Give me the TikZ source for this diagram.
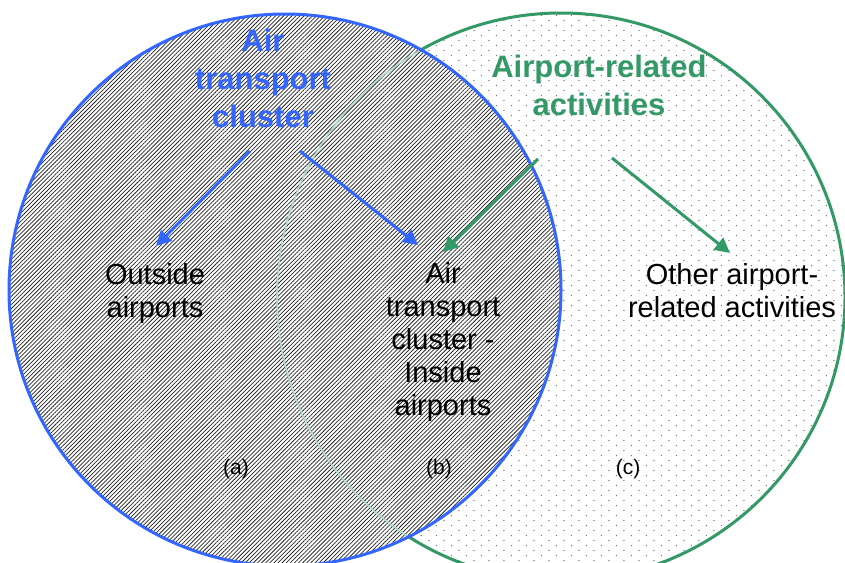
\documentclass[tikz,border=0pt]{standalone}
\usepackage{fontspec}
\setmainfont{Liberation Sans}
\usetikzlibrary{patterns,patterns.meta,arrows.meta}
\pgfdeclarepatternformonly{stagdots}{\pgfqpoint{0pt}{0pt}}{\pgfqpoint{15.4pt}{10.4pt}}{\pgfqpoint{15.4pt}{10.4pt}}{%
  \pgfpathcircle{\pgfqpoint{3pt}{2.6pt}}{0.7pt}%
  \pgfpathcircle{\pgfqpoint{10.7pt}{7.8pt}}{0.7pt}%
  \pgfusepath{fill}}
\definecolor{ablue}{RGB}{51,102,255}
\definecolor{agreen}{RGB}{51,153,102}
\tikzset{
  titletxt/.style={font=\fontsize{31}{38}\selectfont\bfseries, align=center, inner sep=0pt, anchor=base},
  labtxt/.style={font=\fontsize{29}{33}\selectfont, align=center, inner sep=0pt, anchor=base},
  tagtxt/.style={font=\fontsize{21}{25}\selectfont, inner sep=0pt, anchor=base},
  bluearrow/.style={ablue, line width=3pt, -{Triangle[length=15pt,width=15pt]}},
  greenarrow/.style={agreen, line width=3pt, -{Triangle[length=15pt,width=15pt]}},
}
\begin{document}
\begin{tikzpicture}[x=1pt,y=-1pt]
\useasboundingbox (0,0) rectangle (845,562);
\clip (0,0) rectangle (845,562);
\fill[white] (0,0) rectangle (845,562);
% green set
\fill[pattern=stagdots, pattern color=black!60] (561,297) circle[radius=284];
\draw[agreen, line width=3pt] (561,297) circle[radius=284];
% blue set
\fill[white, opacity=0.82] (285,290) circle[radius=276];
\fill[pattern={Lines[angle=45,distance=2.9pt,line width=0.75pt]}, pattern color=black!85] (285,290) circle[radius=276];
\begin{scope}
  \clip (285,290) circle[radius=276];
  \draw[agreen!35, line width=1.5pt] (561,297) circle[radius=284];
\end{scope}
\draw[ablue, line width=3pt] (285,290) circle[radius=276];
% titles (anchor base = last line)
\node[titletxt, text=ablue] (tblue) at (263,127) {Air\\transport\\cluster};
\node[titletxt, text=agreen] (tgreen) at (599,115) {Airport-related\\activities};
% labels
\node[labtxt] (lout) at (155,317) {Outside\\airports};
\node[labtxt] (lin) at (443,415) {Air\\transport\\cluster -\\Inside\\airports};
\node[labtxt] (loth) at (732,317) {Other airport-\\related activities};
\node[tagtxt] (ta) at (236,474) {(a)};
\node[tagtxt] (tb) at (439,474) {(b)};
\node[tagtxt] (tc) at (628,474) {(c)};
% arrow ends
\coordinate (bs1) at (250,151);
\coordinate (be1) at (156,246);
\coordinate (bs2) at (300,151);
\coordinate (be2) at (418,245);
\coordinate (gs1) at (538,159);
\coordinate (ge1) at (443,252);
\coordinate (gs2) at (612,158);
\coordinate (ge2) at (730,253);
\draw[bluearrow] (bs1) -- (be1);
\draw[bluearrow] (bs2) -- (be2);
\draw[greenarrow] (gs1) -- (ge1);
\draw[greenarrow] (gs2) -- (ge2);
\end{tikzpicture}
\end{document}
